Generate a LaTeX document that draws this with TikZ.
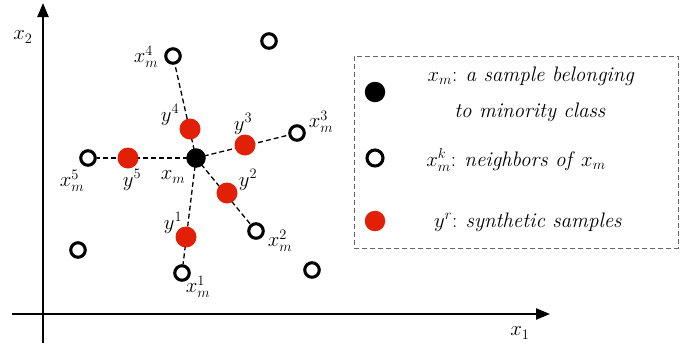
\documentclass[tikz,border=0pt]{standalone}
\usetikzlibrary{arrows.meta,backgrounds}
\definecolor{synred}{RGB}{226,32,8}
\begin{document}
\begin{tikzpicture}[x=1pt,y=-1pt,
  every node/.style={font=\fontsize{21}{25}\selectfont},
  openpt/.style={circle,draw=black,line width=3.1pt,fill=white,minimum size=14.5pt,inner sep=0pt},
  blackpt/.style={circle,fill=black,minimum size=19.5pt,inner sep=0pt},
  redpt/.style={circle,fill=synred,minimum size=21pt,inner sep=0pt},
  link/.style={dashed,line width=1.3pt,dash pattern=on 5pt off 3pt},
  axis/.style={line width=2.2pt,-{Triangle[length=14pt,width=11pt]}},
  lbl/.style={inner sep=0pt}]
\useasboundingbox (0,0) rectangle (697,349);
% axes
\coordinate (ybot) at (43,343);
\coordinate (ytop) at (43,3);
\coordinate (xl) at (12,314);
\coordinate (xr) at (550,314);
\draw[axis] (ybot) -- (ytop);
\draw[axis] (xl) -- (xr);
\node[lbl] (lx2) at (23,37) {$x_2$};
\node[lbl] (lx1) at (520,333) {$x_1$};
% points
\node[blackpt] (xm) at (196,158) {};
\node[openpt] (x4) at (173,56) {};
\node[openpt] (x3) at (297,133) {};
\node[openpt] (x5) at (88,158) {};
\node[openpt] (x2) at (256,231) {};
\node[openpt] (x1) at (182,273) {};
\node[openpt] (o1) at (269,41) {};
\node[openpt] (o2) at (78,250) {};
\node[openpt] (o3) at (312,270) {};
\node[redpt] (y4) at (190,129) {};
\node[redpt] (y3) at (245,145) {};
\node[redpt] (y5) at (128,158) {};
\node[redpt] (y2) at (227,193) {};
\node[redpt] (y1) at (186,237) {};
\begin{scope}[on background layer]
\draw[link] (xm.center) -- (x4);
\draw[link] (xm.center) -- (x3);
\draw[link] (xm.center) -- (x5);
\draw[link] (xm.center) -- (x2);
\draw[link] (xm.center) -- (x1);
\end{scope}
% labels
\node[lbl] (lx4) at (146,57) {$x_m^4$};
\node[lbl] (ly4) at (170,115) {$y^4$};
\node[lbl] (ly3) at (243,124) {$y^3$};
\node[lbl] (lx3) at (321,122) {$x_m^3$};
\node[lbl] (lx5) at (72,181) {$x_m^5$};
\node[lbl] (ly5) at (132,180) {$y^5$};
\node[lbl] (lxm) at (173,177) {$x_m$};
\node[lbl] (ly2) at (248,180) {$y^2$};
\node[lbl] (ly1) at (173,223) {$y^1$};
\node[lbl] (lx2b) at (280,241) {$x_m^2$};
\node[lbl] (lx1b) at (198,287) {$x_m^1$};
% legend
\node[draw=black!60,dashed,line width=0.9pt,dash pattern=on 5pt off 3pt,minimum width=324pt,minimum height=192pt,inner sep=0pt] (legend) at (516,152) {};
\node[blackpt,minimum size=20.5pt] (lgb) at (375,92) {};
\node[openpt,minimum size=16pt,line width=3.1pt] (lgo) at (375,158) {};
\node[redpt,minimum size=20.5pt] (lgr) at (375,221) {};
\node[lbl] (t1) at (531,76) {$x_m$: \textit{a sample belonging}};
\node[lbl] (t2) at (530,112) {\textit{to minority class}};
\node[lbl] (t3) at (516,160) {$x_m^k$: \textit{neighbors of} $x_m$};
\node[lbl] (t4) at (528,222) {$y^r$: \textit{synthetic samples}};
\end{tikzpicture}
\end{document}
